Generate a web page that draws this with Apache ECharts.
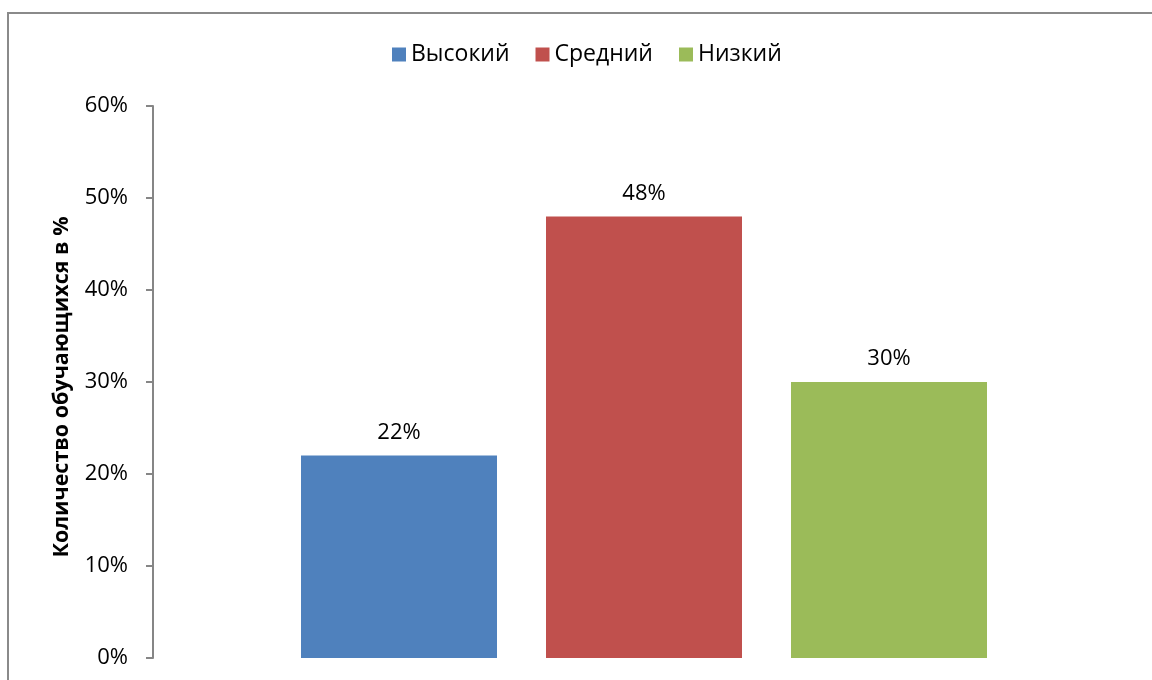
<!DOCTYPE html>
<html><head><meta charset="utf-8">
<script src="https://cdn.jsdelivr.net/npm/echarts@6/dist/echarts.min.js"></script>
<style>html,body{margin:0;padding:0;background:#fff}#c{width:1152px;height:680px}</style>
</head><body><div id="c"></div>
<script>
const categories = [''];
const seriesNames = ['Высокий', 'Средний', 'Низкий'];
const seriesValues = [[0.22], [0.48], [0.30]];
const colors = ['#4F81BD', '#C0504D', '#9BBB59'];
const yTicks = { min: 0, max: 0.6, interval: 0.1 };
const yTitle = 'Количество обучающихся в %';

const font = '"Open Sans", "Noto Sans", sans-serif';
const chart = echarts.init(document.getElementById('c'));
chart.setOption({
  animation: false,
  textStyle: { fontFamily: font },
  graphic: [{ type: 'rect', shape: { x: 8, y: 13, width: 1300, height: 1000 },
    style: { fill: 'none', stroke: '#8a8a8a', lineWidth: 2 }, silent: true, z: -1 }],
  legend: {
    top: 38, left: 387, itemWidth: 14, itemHeight: 14, itemGap: 26,
    icon: 'rect',
    textStyle: { fontSize: 23, color: '#000', fontFamily: font },
    data: seriesNames
  },
  grid: { left: 153, right: 17, top: 106, bottom: 22, containLabel: false },
  xAxis: {
    type: 'category', data: categories,
    axisLine: { show: false }, axisTick: { show: false }, axisLabel: { show: false }
  },
  yAxis: {
    type: 'value', min: yTicks.min, max: yTicks.max, interval: yTicks.interval,
    name: yTitle, nameLocation: 'middle', nameGap: 80, nameRotate: 90,
    nameTextStyle: { fontSize: 21.5, fontWeight: 'bold', color: '#000', fontFamily: font, padding: [0, 10, 0, 0] },
    axisLine: { show: true, lineStyle: { color: '#868686', width: 2 } },
    axisTick: { show: true, length: 7, lineStyle: { color: '#868686', width: 2 } },
    splitLine: { show: false },
    axisLabel: { margin: 25, fontSize: 22, color: '#000', fontFamily: font,
      formatter: v => Math.round(v * 100) + '%' }
  },
  series: seriesNames.map((n, i) => ({
    name: n, type: 'bar', data: seriesValues[i], barWidth: 196, barGap: '25%',
    itemStyle: { color: colors[i] },
    label: { show: true, position: 'top', distance: 12, fontSize: 22, color: '#000', fontFamily: font,
      formatter: p => Math.round(p.value * 100) + '%' }
  }))
});
</script></body></html>
